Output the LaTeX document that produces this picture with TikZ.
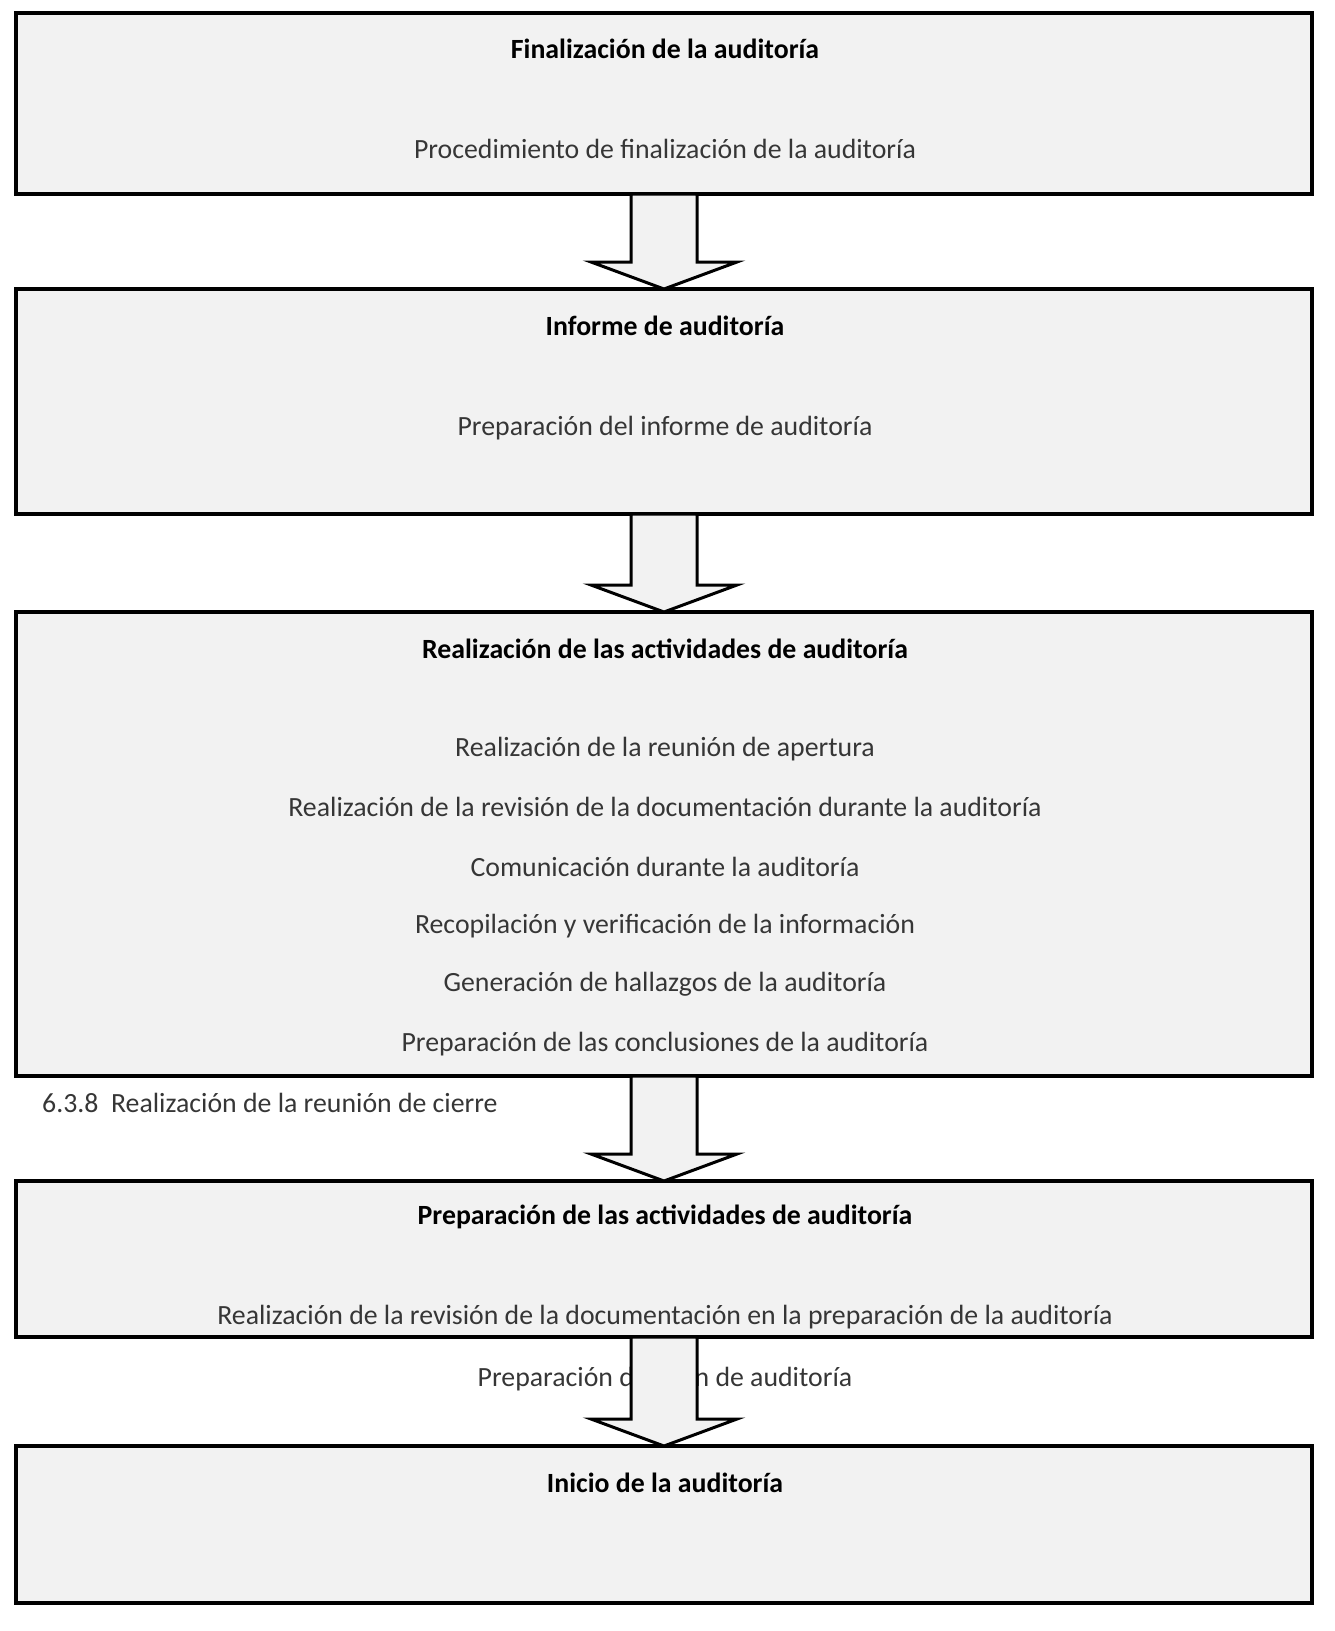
\documentclass[tikz,border=0pt]{standalone}
\usepackage{fontspec}
\setmainfont{Carlito}
\usetikzlibrary{calc}
\definecolor{boxfill}{HTML}{F2F2F2}
\definecolor{bodytext}{HTML}{363636}
\tikzset{
  box/.style={draw=black, line width=4pt, fill=boxfill, minimum width=1296pt, outer sep=0pt, inner sep=0pt},
  ttl/.style={font=\fontsize{27.8}{33}\selectfont\bfseries, text=black, inner sep=0pt},
  txt/.style={font=\fontsize{27.8}{33}\selectfont, text=bodytext, inner sep=0pt},
  bigarrow/.style={draw=black, line width=3pt, fill=boxfill, line join=miter}
}
\newcommand{\blockarrow}[2]{%
  \draw[bigarrow] let \p1=(#1.south), \p2=(#2.north) in
    (\x1-33pt,\y1) -- (\x1-33pt,\y2+27pt) -- (\x1-73pt,\y2+27pt) -- (\x1,\y2)
    -- (\x1+73pt,\y2+27pt) -- (\x1+33pt,\y2+27pt) -- (\x1+33pt,\y1) -- cycle;}
\begin{document}
\begin{tikzpicture}[x=1pt,y=-1pt]
\useasboundingbox (0,0) rectangle (1335,1631);
% boxes
\node[box, minimum height=181pt] (b1) at (664,103.5) {};
\node[box, minimum height=225pt] (b2) at (664,401.5) {};
\node[box, minimum height=464pt] (b3) at (664,844) {};
\node[box, minimum height=156pt] (b4) at (664,1259) {};
\node[box, minimum height=157pt] (b5) at (664,1524.5) {};
% texts
\node[ttl] (t1) at (665,49) {Finalización de la auditoría};
\node[txt] (s1) at (665,149) {Procedimiento de finalización de la auditoría};
\node[ttl] (t2) at (665,326) {Informe de auditoría};
\node[txt] (s2) at (665,428) {Preparación del informe de auditoría};
\node[ttl] (t3) at (665,649) {Realización de las actividades de auditoría};
\node[txt] (s31) at (665,749) {Realización de la reunión de apertura};
\node[txt] (s32) at (665,807) {Realización de la revisión de la documentación durante la auditoría};
\node[txt] (s33) at (665,867) {Comunicación durante la auditoría};
\node[txt] (s34) at (665,926) {Recopilación y verificación de la información};
\node[txt] (s35) at (665,984) {Generación de hallazgos de la auditoría};
\node[txt] (s36) at (665,1044) {Preparación de las conclusiones de la auditoría};
\node[txt, anchor=west] (c1) at (42,1103) {6.3.8\ \ Realización de la reunión de cierre};
\node[ttl] (t4) at (665,1217) {Preparación de las actividades de auditoría};
\node[txt] (s4) at (665,1317) {Realización de la revisión de la documentación en la preparación de la auditoría};
\node[txt] (p4) at (665,1379) {Preparación del plan de auditoría};
\node[ttl] (t5) at (665,1483) {Inicio de la auditoría};
% arrows
\blockarrow{b1}{b2}
\blockarrow{b2}{b3}
\blockarrow{b3}{b4}
\blockarrow{b4}{b5}
\end{tikzpicture}
\end{document}
